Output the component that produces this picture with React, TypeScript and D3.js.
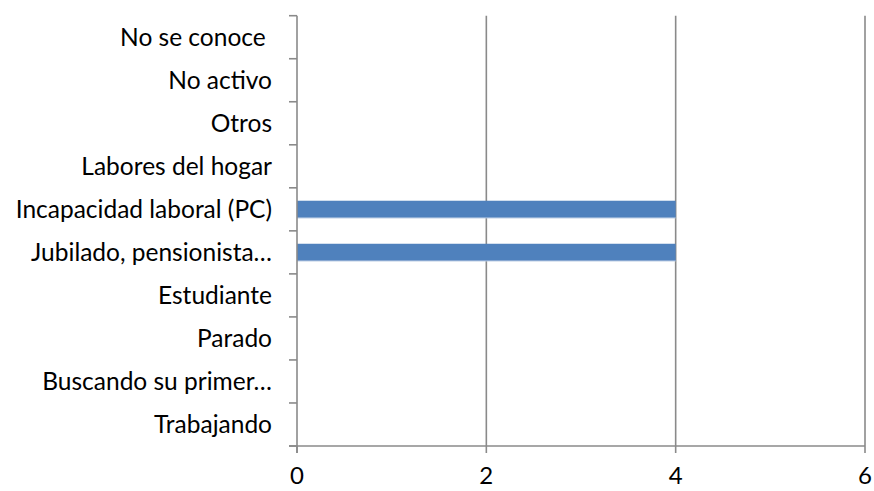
import React from "react";
import * as d3 from "d3";

// Situación laboral: categories listed bottom to top as they appear on the axis
const categories = [
  "Trabajando",
  "Buscando su primer…",
  "Parado",
  "Estudiante",
  "Jubilado, pensionista…",
  "Incapacidad laboral (PC)",
  "Labores del hogar",
  "Otros",
  "No activo",
  "No se conoce\u00A0",
];
const values = [0, 0, 0, 0, 4, 4, 0, 0, 0, 0];
const xTicks = [0, 2, 4, 6];

const W = 874;
const H = 491;
const margin = { left: 297, top: 15.7 };
const FONT = "Lato, 'Open Sans', sans-serif";
const AXIS = "#8a8a8a";
const BAR = "#4f81bd";

export default function App() {
  const x = d3.scaleLinear().domain([0, 6]).range([margin.left, 865]);
  const y = d3
    .scaleBand<string>()
    .domain([...categories].reverse())
    .range([margin.top, 446])
    .paddingInner(0.6)
    .paddingOuter(0.3);
  const step = y.step();
  const y0 = margin.top;
  const y1 = 446;

  return (
    <svg
      width={W}
      height={H}
      style={{ position: "absolute", left: 0, top: 0, background: "#fff" }}
    >
      {/* vertical gridlines */}
      {xTicks.slice(1).map((t) => (
        <line key={t} x1={x(t)} x2={x(t)} y1={y0} y2={y1} stroke={AXIS} strokeWidth={1.6} />
      ))}
      {/* bars */}
      {categories.map((c, i) =>
        values[i] > 0 ? (
          <g key={c}>
            <rect
              x={x(0)}
              y={y(c)!}
              width={x(values[i]) - x(0)}
              height={y.bandwidth()}
              fill={BAR}
            />
            <line
              x1={x(0)}
              x2={x(values[i])}
              y1={y(c)! + y.bandwidth()}
              y2={y(c)! + y.bandwidth()}
              stroke="#b7c9e2"
              strokeWidth={1}
            />
          </g>
        ) : null
      )}
      {/* y axis */}
      <line x1={x(0)} x2={x(0)} y1={y0} y2={y1 + 7} stroke={AXIS} strokeWidth={1.6} />
      {d3.range(categories.length + 1).map((i) => (
        <line
          key={i}
          x1={x(0) - 8}
          x2={x(0)}
          y1={y0 + i * step}
          y2={y0 + i * step}
          stroke={AXIS}
          strokeWidth={1.6}
        />
      ))}
      {/* x axis */}
      <line x1={x(0) - 8} x2={x(6)} y1={y1} y2={y1} stroke={AXIS} strokeWidth={1.6} />
      {xTicks.map((t) => (
        <line key={t} x1={x(t)} x2={x(t)} y1={y1} y2={y1 + 7} stroke={AXIS} strokeWidth={1.6} />
      ))}
      {/* category labels */}
      {categories.map((c) => (
        <text
          key={c}
          x={272}
          y={y(c)! + y.bandwidth() / 2}
          dy="0.35em"
          textAnchor="end"
          fontFamily={FONT}
          fontSize={24.5}
          fill="#000"
          style={{ whiteSpace: "pre" }}
        >
          {c}
        </text>
      ))}
      {/* value labels */}
      {xTicks.map((t) => (
        <text
          key={t}
          x={x(t)}
          y={476}
          dy="0.35em"
          textAnchor="middle"
          fontFamily={FONT}
          fontSize={24}
          fill="#000"
        >
          {t}
        </text>
      ))}
    </svg>
  );
}
